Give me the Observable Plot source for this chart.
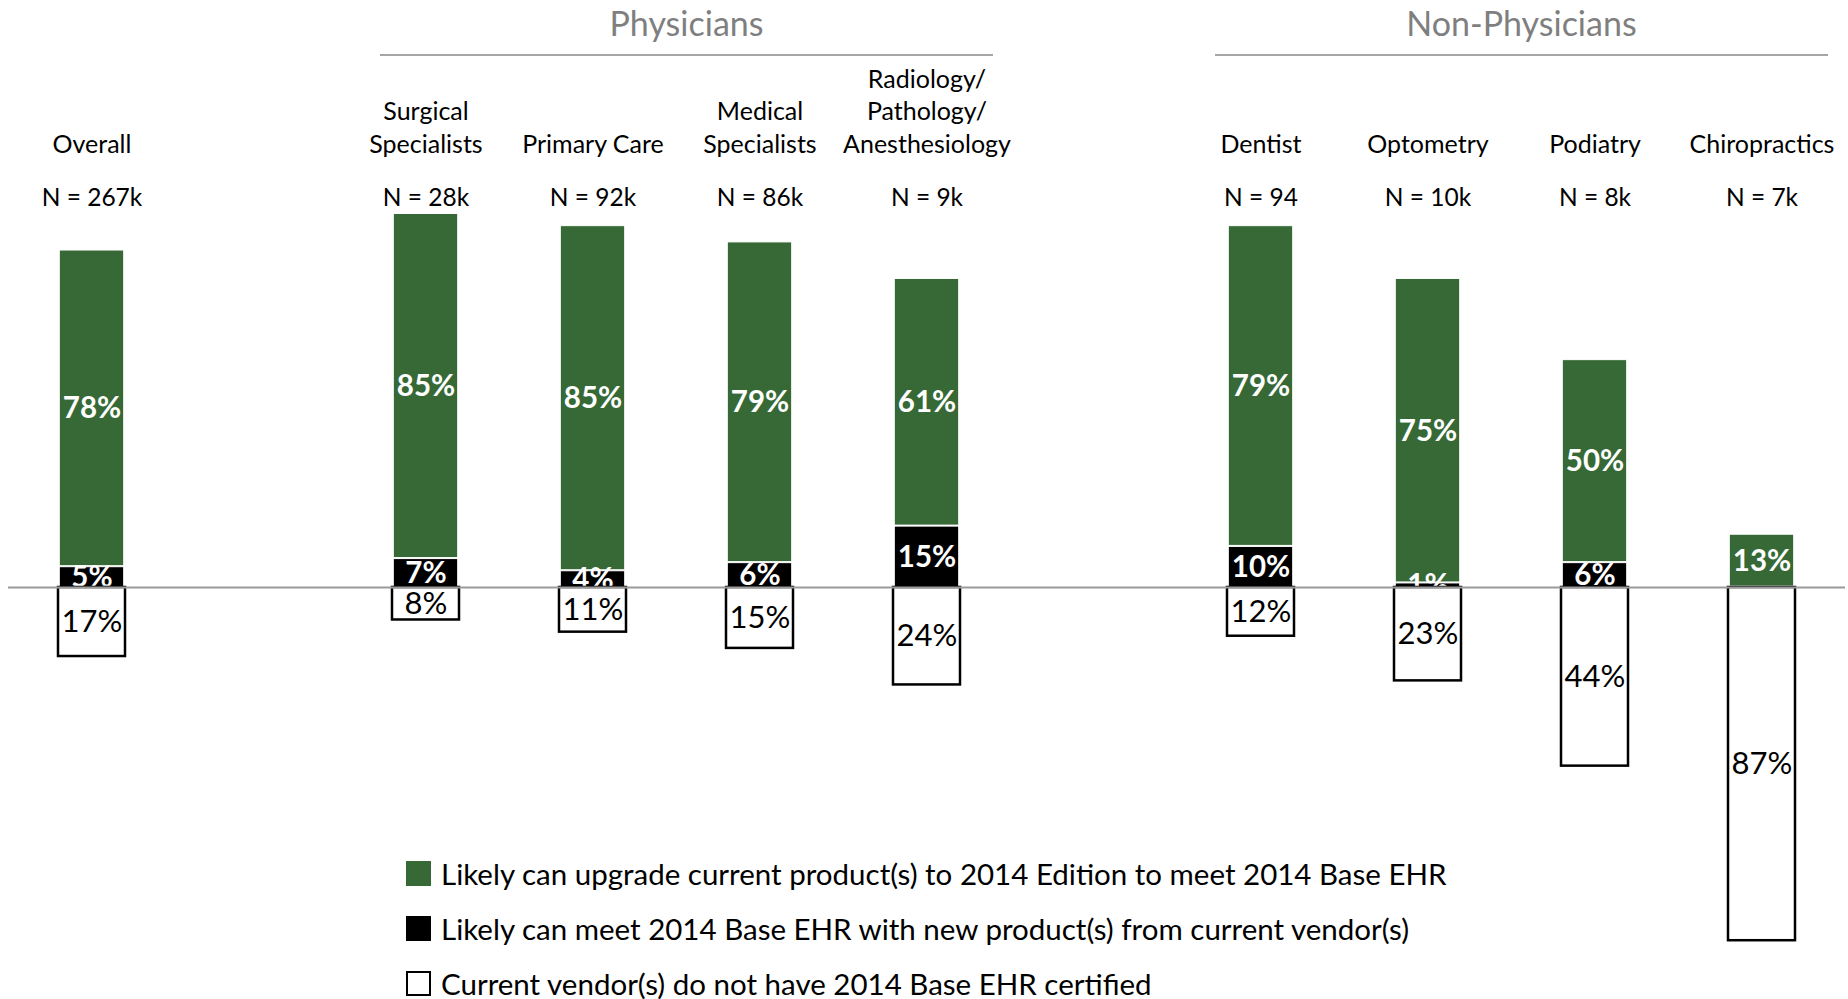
<!DOCTYPE html>
<html>
<head>
<meta charset="utf-8">
<script src="https://cdn.jsdelivr.net/npm/d3@7"></script>
<script src="https://cdn.jsdelivr.net/npm/@observablehq/plot@0.6"></script>
<style>
  html, body { margin: 0; padding: 0; background: #fff; }
  #wrap { position: relative; width: 1848px; height: 999px; font-family: Lato, "Open Sans", sans-serif; }
  #legend { position: absolute; left: 406px; top: 846px; font-size: 29.5px; color: #000; }
  #legend .row { display: flex; align-items: center; height: 55px; white-space: nowrap; }
  #legend .sw { width: 25px; height: 25px; box-sizing: border-box; margin-right: 10px; flex: none; }
</style>
</head>
<body>
<div id="wrap"><div id="chart"></div><div id="legend"></div></div>
<script>
// ---- data ----
const categories = ["Overall", "Surgical\nSpecialists", "Primary Care", "Medical\nSpecialists",
  "Radiology/\nPathology/\nAnesthesiology", "Dentist", "Optometry", "Podiatry", "Chiropractics"];
const groups = ["", "Physicians", "Physicians", "Physicians", "Physicians",
  "Non-Physicians", "Non-Physicians", "Non-Physicians", "Non-Physicians"];
const nLabels = ["N = 267k", "N = 28k", "N = 92k", "N = 86k", "N = 9k", "N = 94", "N = 10k", "N = 8k", "N = 7k"];
const upgrade = [78, 85, 85, 79, 61, 79, 75, 50, 13];
const newProduct = [5, 7, 4, 6, 15, 10, 1, 6, 0];
const notCertified = [17, 8, 11, 15, 24, 12, 23, 44, 87];
const seriesNames = [
  "Likely can upgrade current product(s) to 2014 Edition to meet 2014 Base EHR",
  "Likely can meet 2014 Base EHR with new product(s) from current vendor(s)",
  "Current vendor(s) do not have 2014 Base EHR certified"
];
const seriesFill = ["#376936", "#000000", "#ffffff"];

// ---- derived tables ----
const xDomain = [];
categories.forEach((c, i) => {
  if (i > 0 && groups[i] !== groups[i - 1]) xDomain.push(" ".repeat(i));
  xDomain.push(c);
});
const rows = categories.map((c, i) => ({
  cat: c, n: nLabels[i], group: groups[i],
  up: upgrade[i], np: newProduct[i], nc: notCertified[i]
}));
const groupList = Array.from(new Set(groups.filter(g => g))).map(g => {
  const cs = categories.filter((c, i) => groups[i] === g);
  return {label: g, from: cs[0], to: cs[cs.length - 1]};
});

const font = "Lato, 'Open Sans', sans-serif";
const pct = v => `${v}%`;

const plot = Plot.plot({
  width: 1848,
  height: 999,
  marginTop: 181,
  marginBottom: 6,
  marginLeft: 8,
  marginRight: 3,
  style: {fontFamily: font, background: "#fff", overflow: "visible"},
  x: {type: "band", domain: xDomain, padding: 0, axis: null},
  y: {domain: [-100, 100], axis: null},
  marks: [
    // green segments
    Plot.barY(rows, {x: "cat", y1: "np", y2: d => d.np + d.up, fill: seriesFill[0],
      stroke: "#ffffff", strokeWidth: 1, insetLeft: 51.3, insetRight: 51.3, insetBottom: 1}),
    // black segments
    Plot.barY(rows.filter(d => d.np > 0), {x: "cat", y1: 0, y2: "np", fill: seriesFill[1],
      stroke: "#ffffff", strokeWidth: 1, insetLeft: 51.3, insetRight: 51.3}),
    Plot.text(rows, {x: "cat", y: d => d.np + d.up / 2, text: d => pct(d.up),
      fill: "#fff", fontWeight: "bold", fontSize: 29.5}),
    Plot.text(rows.filter(d => d.np > 0), {x: "cat", y: d => d.np / 2, text: d => pct(d.np),
      fill: "#fff", fontWeight: "bold", fontSize: 29.5}),
    // white (not certified) segments, below zero
    Plot.barY(rows, {x: "cat", y1: d => -d.nc, y2: 0, fill: seriesFill[2],
      stroke: "#000", strokeWidth: 2.5, insetLeft: 50, insetRight: 50}),
    Plot.text(rows, {x: "cat", y: d => -d.nc / 2, text: d => pct(d.nc),
      fill: "#000", fontSize: 31}),
    Plot.ruleY([0], {stroke: "#9a9a9a", strokeWidth: 2}),
    // category labels and N labels in the top margin
    Plot.text(rows, {x: "cat", text: "cat", frameAnchor: "top", dy: -29, lineAnchor: "bottom",
      lineHeight: 1.3, fontSize: 25, fill: "#000"}),
    Plot.text(rows, {x: "cat", text: "n", frameAnchor: "top", dy: 24, lineAnchor: "bottom",
      fontSize: 24.5, fill: "#000"})
  ]
});

// group headers positioned with Plot's x scale
const xs = plot.scale("x");
const svg = d3.select(plot);
const hg = svg.append("g");
groupList.forEach(g => {
  const x1 = xs.apply(g.from) + 38;
  const x2 = xs.apply(g.to) + xs.bandwidth - 17;
  hg.append("line").attr("x1", x1).attr("x2", x2).attr("y1", 55).attr("y2", 55)
    .attr("stroke", "#a6a6a6").attr("stroke-width", 2.2);
  hg.append("text").attr("x", (x1 + x2) / 2).attr("y", 36).attr("text-anchor", "middle")
    .attr("fill", "#7f7f7f").attr("font-size", 34).attr("font-family", font).text(g.label);
});

document.getElementById("chart").appendChild(plot);

// legend
const lg = d3.select("#legend");
seriesNames.forEach((name, i) => {
  const r = lg.append("div").attr("class", "row");
  r.append("div").attr("class", "sw")
    .style("background", seriesFill[i])
    .style("border", i === 2 ? "2px solid #000" : "none");
  r.append("span").text(name);
});
</script>
</body>
</html>
